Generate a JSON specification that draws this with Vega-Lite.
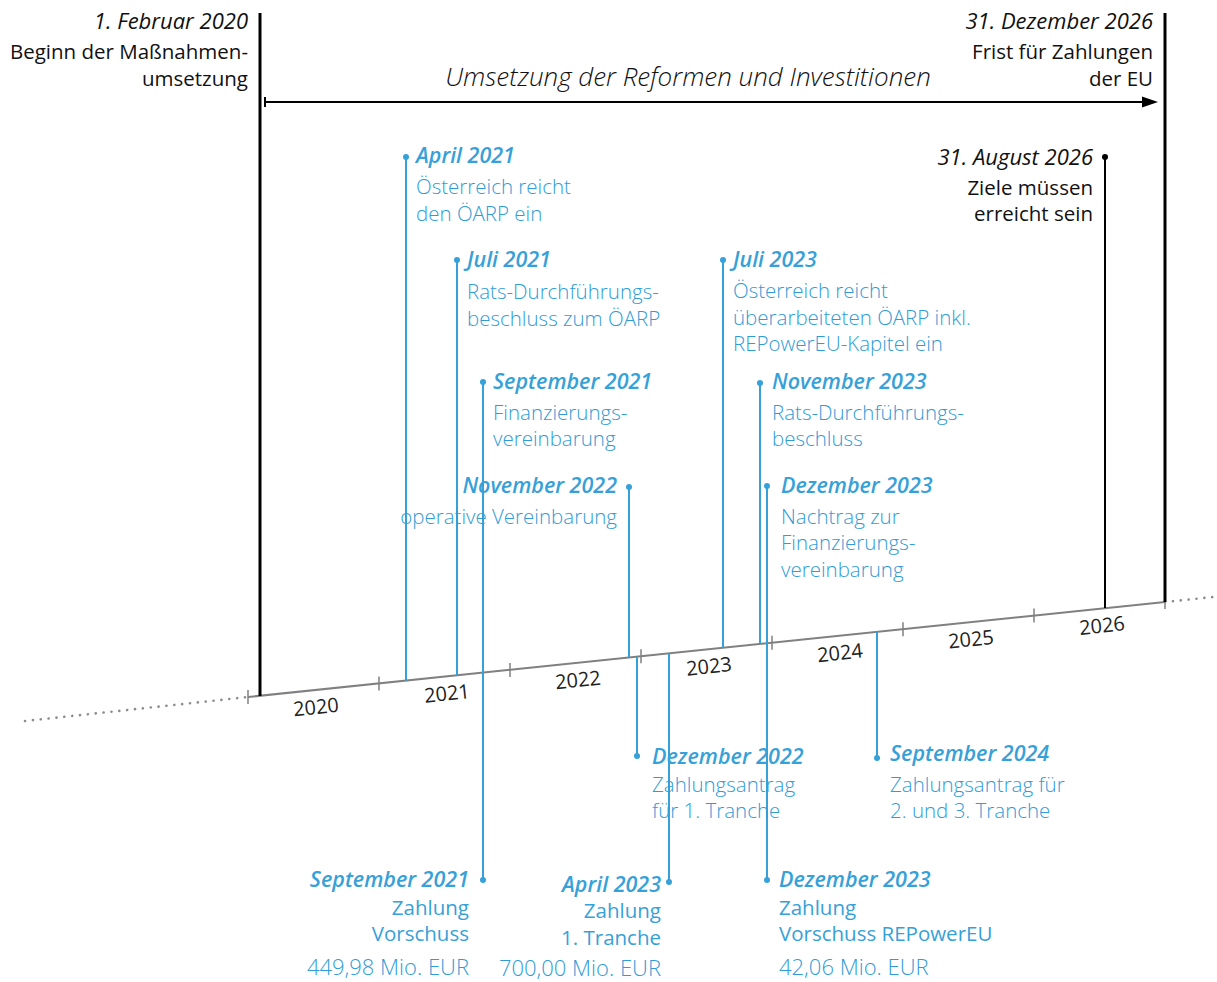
{
  "$schema": "https://vega.github.io/schema/vega-lite/v6.json",
  "width": 1217,
  "height": 982,
  "autosize": "none",
  "padding": 0,
  "background": "white",
  "config": {"view": {"stroke": null}, "text": {"font": "Open Sans"}},
  "datasets": {
    "segs": [
      {"kind": "dotted", "t": 2018.2977, "v": 721, "t2": 2020.0, "v2": 697},
      {"kind": "dotted", "t": 2027.0, "v": 602, "t2": 2027.3664, "v2": 597},
      {"kind": "timeline", "t": 2020.0, "v": 697, "t2": 2027.0, "v2": 602},
      {"kind": "tick", "t": 2020, "v": 690, "t2": 2020, "v2": 704},
      {"kind": "tick", "t": 2021, "v": 676.4, "t2": 2021, "v2": 690.4},
      {"kind": "tick", "t": 2022, "v": 662.9, "t2": 2022, "v2": 676.9},
      {"kind": "tick", "t": 2023, "v": 649.3, "t2": 2023, "v2": 663.3},
      {"kind": "tick", "t": 2024, "v": 635.8, "t2": 2024, "v2": 649.8},
      {"kind": "tick", "t": 2025, "v": 622.2, "t2": 2025, "v2": 636.2},
      {"kind": "tick", "t": 2026, "v": 608.6, "t2": 2026, "v2": 622.6},
      {"kind": "tick", "t": 2027, "v": 595.1, "t2": 2027, "v2": 609.1},
      {"kind": "blackbold", "t": 2020.0916, "v": 13, "t2": 2020.0916, "v2": 696},
      {"kind": "blackbold", "t": 2027.0, "v": 13, "t2": 2027.0, "v2": 602},
      {"kind": "black", "t": 2026.542, "v": 157, "t2": 2026.542, "v2": 608},
      {"kind": "black", "t": 2020.1298, "v": 102, "t2": 2026.8702, "v2": 102},
      {"kind": "black", "t": 2020.1298, "v": 97, "t2": 2020.1298, "v2": 107},
      {"kind": "blue", "t": 2021.2061, "v": 157, "t2": 2021.2061, "v2": 680.6},
      {"kind": "blue", "t": 2021.5954, "v": 260, "t2": 2021.5954, "v2": 675.4},
      {"kind": "blue", "t": 2021.7939, "v": 382, "t2": 2021.7939, "v2": 880},
      {"kind": "blue", "t": 2022.9084, "v": 487, "t2": 2022.9084, "v2": 657.6},
      {"kind": "blue", "t": 2023.626, "v": 260, "t2": 2023.626, "v2": 647.8},
      {"kind": "blue", "t": 2023.9084, "v": 383, "t2": 2023.9084, "v2": 644.0},
      {"kind": "blue", "t": 2023.9618, "v": 486, "t2": 2023.9618, "v2": 880},
      {"kind": "blue", "t": 2022.9695, "v": 656.7, "t2": 2022.9695, "v2": 756},
      {"kind": "blue", "t": 2023.2137, "v": 653.4, "t2": 2023.2137, "v2": 882},
      {"kind": "blue", "t": 2024.8015, "v": 631.9, "t2": 2024.8015, "v2": 758}
    ],
    "dots": [
      {"kind": "blue", "t": 2021.2061, "v": 157},
      {"kind": "blue", "t": 2021.5954, "v": 260},
      {"kind": "blue", "t": 2021.7939, "v": 382},
      {"kind": "blue", "t": 2022.9084, "v": 487},
      {"kind": "blue", "t": 2023.626, "v": 260},
      {"kind": "blue", "t": 2023.9084, "v": 383},
      {"kind": "blue", "t": 2023.9618, "v": 486},
      {"kind": "blue", "t": 2022.9695, "v": 756},
      {"kind": "blue", "t": 2024.8015, "v": 758},
      {"kind": "blue", "t": 2021.7939, "v": 880},
      {"kind": "blue", "t": 2023.2137, "v": 882},
      {"kind": "blue", "t": 2023.9618, "v": 880},
      {"kind": "black", "t": 2026.542, "v": 157},
      {"kind": "arrowhead", "t": 2026.8855, "v": 102}
    ],
    "labels": [
      {"t": 2020.0, "v": 22, "text": "1. Februar 2020", "side": "right", "style": "bdate"},
      {"t": 2020.0, "v": 53, "text": "Beginn der Maßnahmen-", "side": "right", "style": "bbody"},
      {"t": 2020.0, "v": 80, "text": "umsetzung", "side": "right", "style": "bbody"},
      {"t": 2026.9084, "v": 22, "text": "31. Dezember 2026", "side": "right", "style": "bdate"},
      {"t": 2026.9084, "v": 53, "text": "Frist für Zahlungen", "side": "right", "style": "bbody"},
      {"t": 2026.9084, "v": 80, "text": "der EU", "side": "right", "style": "bbody"},
      {"t": 2026.4504, "v": 158, "text": "31. August 2026", "side": "right", "style": "bdate"},
      {"t": 2026.4504, "v": 189, "text": "Ziele müssen", "side": "right", "style": "bbody"},
      {"t": 2026.4504, "v": 215, "text": "erreicht sein", "side": "right", "style": "bbody"},
      {"t": 2023.3588, "v": 78, "text": "Umsetzung der Reformen und Investitionen", "side": "center", "style": "title"},
      {"t": 2021.2824, "v": 157, "text": "April 2021", "side": "left", "style": "date"},
      {"t": 2021.2824, "v": 188, "text": "Österreich reicht", "side": "left", "style": "body"},
      {"t": 2021.2824, "v": 215, "text": "den ÖARP ein", "side": "left", "style": "body"},
      {"t": 2021.6718, "v": 261, "text": "Juli 2021", "side": "left", "style": "date"},
      {"t": 2021.6718, "v": 293, "text": "Rats-Durchführungs-", "side": "left", "style": "body"},
      {"t": 2021.6718, "v": 320, "text": "beschluss zum ÖARP", "side": "left", "style": "body"},
      {"t": 2021.8702, "v": 383, "text": "September 2021", "side": "left", "style": "date"},
      {"t": 2021.8702, "v": 414, "text": "Finanzierungs-", "side": "left", "style": "body"},
      {"t": 2021.8702, "v": 440, "text": "vereinbarung", "side": "left", "style": "body"},
      {"t": 2022.8168, "v": 487, "text": "November 2022", "side": "right", "style": "date"},
      {"t": 2022.8168, "v": 518, "text": "operative Vereinbarung", "side": "right", "style": "body"},
      {"t": 2023.7023, "v": 261, "text": "Juli 2023", "side": "left", "style": "date"},
      {"t": 2023.7023, "v": 292, "text": "Österreich reicht", "side": "left", "style": "body"},
      {"t": 2023.7023, "v": 319, "text": "überarbeiteten ÖARP inkl.", "side": "left", "style": "body"},
      {"t": 2023.7023, "v": 345, "text": "REPowerEU-Kapitel ein", "side": "left", "style": "body"},
      {"t": 2024.0, "v": 383, "text": "November 2023", "side": "left", "style": "date"},
      {"t": 2024.0, "v": 414, "text": "Rats-Durchführungs-", "side": "left", "style": "body"},
      {"t": 2024.0, "v": 440, "text": "beschluss", "side": "left", "style": "body"},
      {"t": 2024.0687, "v": 487, "text": "Dezember 2023", "side": "left", "style": "date"},
      {"t": 2024.0687, "v": 518, "text": "Nachtrag zur", "side": "left", "style": "body"},
      {"t": 2024.0687, "v": 544, "text": "Finanzierungs-", "side": "left", "style": "body"},
      {"t": 2024.0687, "v": 571, "text": "vereinbarung", "side": "left", "style": "body"},
      {"t": 2023.084, "v": 758, "text": "Dezember 2022", "side": "left", "style": "date"},
      {"t": 2023.084, "v": 786, "text": "Zahlungsantrag", "side": "left", "style": "body"},
      {"t": 2023.084, "v": 812, "text": "für 1. Tranche", "side": "left", "style": "body"},
      {"t": 2024.9008, "v": 755, "text": "September 2024", "side": "left", "style": "date"},
      {"t": 2024.9008, "v": 786, "text": "Zahlungsantrag für", "side": "left", "style": "body"},
      {"t": 2024.9008, "v": 812, "text": "2. und 3. Tranche", "side": "left", "style": "body"},
      {"t": 2021.687, "v": 881, "text": "September 2021", "side": "right", "style": "date"},
      {"t": 2021.687, "v": 909, "text": "Zahlung", "side": "right", "style": "pay"},
      {"t": 2021.687, "v": 935, "text": "Vorschuss", "side": "right", "style": "pay"},
      {"t": 2021.687, "v": 968, "text": "449,98 Mio. EUR", "side": "right", "style": "amount"},
      {"t": 2023.1527, "v": 886, "text": "April 2023", "side": "right", "style": "date"},
      {"t": 2023.1527, "v": 912, "text": "Zahlung", "side": "right", "style": "pay"},
      {"t": 2023.1527, "v": 939, "text": "1. Tranche", "side": "right", "style": "pay"},
      {"t": 2023.1527, "v": 969, "text": "700,00 Mio. EUR", "side": "right", "style": "amount"},
      {"t": 2024.0534, "v": 881, "text": "Dezember 2023", "side": "left", "style": "date"},
      {"t": 2024.0534, "v": 909, "text": "Zahlung", "side": "left", "style": "pay"},
      {"t": 2024.0534, "v": 935, "text": "Vorschuss REPowerEU", "side": "left", "style": "pay"},
      {"t": 2024.0534, "v": 968, "text": "42,06 Mio. EUR", "side": "left", "style": "amount"},
      {"t": 2020.52, "v": 708, "text": "2020", "side": "center", "style": "year"},
      {"t": 2021.52, "v": 694.4, "text": "2021", "side": "center", "style": "year"},
      {"t": 2022.52, "v": 680.9, "text": "2022", "side": "center", "style": "year"},
      {"t": 2023.52, "v": 667.3, "text": "2023", "side": "center", "style": "year"},
      {"t": 2024.52, "v": 653.8, "text": "2024", "side": "center", "style": "year"},
      {"t": 2025.52, "v": 640.2, "text": "2025", "side": "center", "style": "year"},
      {"t": 2026.52, "v": 626.6, "text": "2026", "side": "center", "style": "year"}
    ]
  },
  "encoding": {
    "x": {"field": "t", "type": "quantitative", "axis": null, "scale": {"domain": [2018.10687, 2027.39695], "nice": false, "zero": false}},
    "y": {"field": "v", "type": "quantitative", "axis": null, "scale": {"domain": [0, 982], "reverse": true, "nice": false, "zero": false}}
  },
  "layer": [
    {"data": {"name": "segs"}, "transform": [{"filter": "datum.kind == 'dotted'"}], "mark": {"type": "rule", "color": "#8c8c8c", "strokeWidth": 2.6, "strokeDash": [0.1, 7.8], "strokeCap": "round"}, "encoding": {"x2": {"field": "t2"}, "y2": {"field": "v2"}}},
    {"data": {"name": "segs"}, "transform": [{"filter": "datum.kind == 'timeline'"}], "mark": {"type": "rule", "color": "#808080", "strokeWidth": 2}, "encoding": {"x2": {"field": "t2"}, "y2": {"field": "v2"}}},
    {"data": {"name": "segs"}, "transform": [{"filter": "datum.kind == 'tick'"}], "mark": {"type": "rule", "color": "#808080", "strokeWidth": 1.5}, "encoding": {"x2": {"field": "t2"}, "y2": {"field": "v2"}}},
    {"data": {"name": "segs"}, "transform": [{"filter": "datum.kind == 'blue'"}], "mark": {"type": "rule", "color": "#36a1d8", "strokeWidth": 2}, "encoding": {"x2": {"field": "t2"}, "y2": {"field": "v2"}}},
    {"data": {"name": "segs"}, "transform": [{"filter": "datum.kind == 'blackbold'"}], "mark": {"type": "rule", "color": "#000000", "strokeWidth": 3}, "encoding": {"x2": {"field": "t2"}, "y2": {"field": "v2"}}},
    {"data": {"name": "segs"}, "transform": [{"filter": "datum.kind == 'black'"}], "mark": {"type": "rule", "color": "#000000", "strokeWidth": 2}, "encoding": {"x2": {"field": "t2"}, "y2": {"field": "v2"}}},
    {"data": {"name": "dots"}, "transform": [{"filter": "datum.kind == 'blue'"}], "mark": {"type": "point", "filled": true, "color": "#36a1d8", "size": 36, "opacity": 1}},
    {"data": {"name": "dots"}, "transform": [{"filter": "datum.kind == 'black'"}], "mark": {"type": "point", "filled": true, "color": "#000000", "size": 36, "opacity": 1}},
    {"data": {"name": "dots"}, "transform": [{"filter": "datum.kind == 'arrowhead'"}], "mark": {"type": "point", "filled": true, "color": "#000000", "size": 256, "opacity": 1, "shape": "M-1,-0.7L1,0L-1,0.7Z"}},
    {"data": {"name": "labels"}, "transform": [{"filter": "datum.style == 'bdate'"}], "mark": {"type": "text", "align": "right", "baseline": "middle", "fontStyle": "italic", "fontSize": 22, "color": "#111111"}, "encoding": {"text": {"field": "text"}}},
    {"data": {"name": "labels"}, "transform": [{"filter": "datum.style == 'bbody'"}], "mark": {"type": "text", "align": "right", "baseline": "middle", "fontSize": 20.5, "color": "#111111"}, "encoding": {"text": {"field": "text"}}},
    {"data": {"name": "labels"}, "transform": [{"filter": "datum.style == 'title'"}], "mark": {"type": "text", "align": "center", "baseline": "middle", "fontStyle": "italic", "fontWeight": 300, "fontSize": 26, "color": "#111111"}, "encoding": {"text": {"field": "text"}}},
    {"data": {"name": "labels"}, "transform": [{"filter": "datum.style == 'year'"}], "mark": {"type": "text", "align": "center", "baseline": "middle", "fontSize": 20, "angle": 354, "color": "#222222"}, "encoding": {"text": {"field": "text"}}},
    {"data": {"name": "labels"}, "transform": [{"filter": "datum.style == 'date' && datum.side == 'left'"}], "mark": {"type": "text", "align": "left", "baseline": "middle", "fontStyle": "italic", "fontWeight": 600, "fontSize": 21.5, "color": "#36a1d8"}, "encoding": {"text": {"field": "text"}}},
    {"data": {"name": "labels"}, "transform": [{"filter": "datum.style == 'date' && datum.side == 'right'"}], "mark": {"type": "text", "align": "right", "baseline": "middle", "fontStyle": "italic", "fontWeight": 600, "fontSize": 21.5, "color": "#36a1d8"}, "encoding": {"text": {"field": "text"}}},
    {"data": {"name": "labels"}, "transform": [{"filter": "datum.style == 'body' && datum.side == 'left'"}], "mark": {"type": "text", "align": "left", "baseline": "middle", "fontWeight": 300, "fontSize": 20.5, "color": "#2f9cd6"}, "encoding": {"text": {"field": "text"}}},
    {"data": {"name": "labels"}, "transform": [{"filter": "datum.style == 'body' && datum.side == 'right'"}], "mark": {"type": "text", "align": "right", "baseline": "middle", "fontWeight": 300, "fontSize": 20.5, "color": "#2f9cd6"}, "encoding": {"text": {"field": "text"}}},
    {"data": {"name": "labels"}, "transform": [{"filter": "datum.style == 'pay' && datum.side == 'left'"}], "mark": {"type": "text", "align": "left", "baseline": "middle", "fontWeight": 400, "fontSize": 20.5, "color": "#36a1d8"}, "encoding": {"text": {"field": "text"}}},
    {"data": {"name": "labels"}, "transform": [{"filter": "datum.style == 'pay' && datum.side == 'right'"}], "mark": {"type": "text", "align": "right", "baseline": "middle", "fontWeight": 400, "fontSize": 20.5, "color": "#36a1d8"}, "encoding": {"text": {"field": "text"}}},
    {"data": {"name": "labels"}, "transform": [{"filter": "datum.style == 'amount' && datum.side == 'left'"}], "mark": {"type": "text", "align": "left", "baseline": "middle", "fontWeight": 300, "fontSize": 22, "color": "#2f9cd6"}, "encoding": {"text": {"field": "text"}}},
    {"data": {"name": "labels"}, "transform": [{"filter": "datum.style == 'amount' && datum.side == 'right'"}], "mark": {"type": "text", "align": "right", "baseline": "middle", "fontWeight": 300, "fontSize": 22, "color": "#2f9cd6"}, "encoding": {"text": {"field": "text"}}}
  ]
}
